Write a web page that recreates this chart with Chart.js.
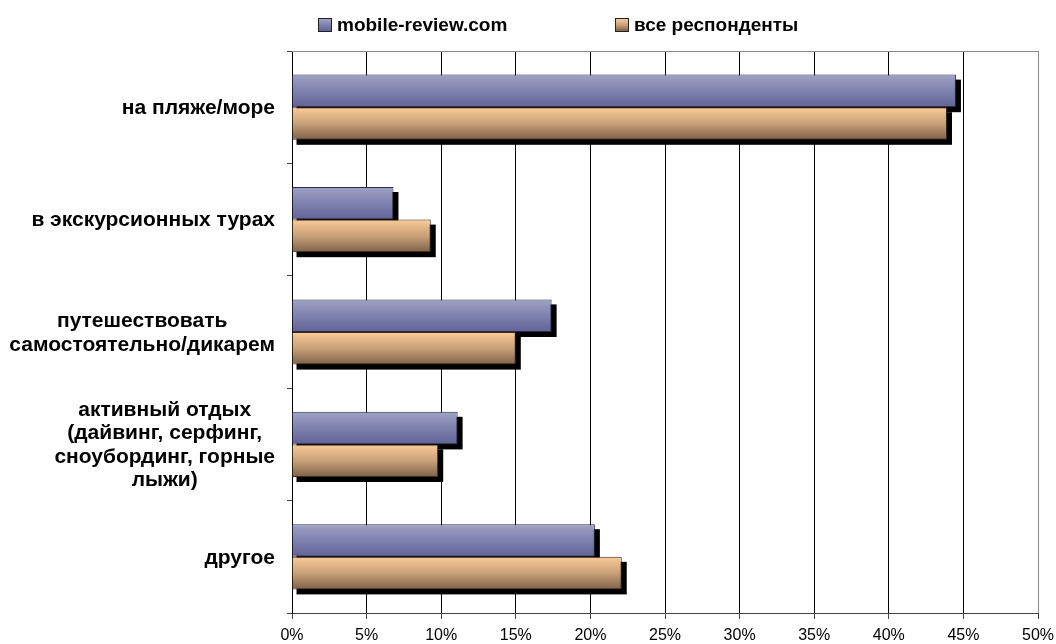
<!DOCTYPE html>
<html>
<head>
<meta charset="utf-8">
<script src="https://cdn.jsdelivr.net/npm/chart.js@4/dist/chart.umd.min.js"></script>
<style>
  html, body { margin: 0; padding: 0; background: #fff; }
  #wrap { position: relative; width: 1056px; height: 644px; }
  #legend { position: absolute; top: 14px; left: 0; width: 1056px; height: 22px;
            font: bold 19px "Liberation Sans", Arial, sans-serif; color: #000; }
  .item { position: absolute; top: 0; display: flex; align-items: center; height: 22px; white-space: nowrap; }
  .box { width: 12px; height: 12px; border: 1px solid #222; margin-right: 5px; }
</style>
</head>
<body>
<div id="wrap">
  <canvas id="c" width="1056" height="644"></canvas>
  <div id="legend"></div>
</div>
<script>
// ---- data ----
const categories = [
  'на пляже/море',
  'в экскурсионных турах',
  ['путешествовать', 'самостоятельно/дикарем'],
  ['активный отдых', '(дайвинг, серфинг,', 'сноубординг, горные', 'лыжи)'],
  'другое'
];
const seriesNames = ['mobile-review.com', 'все респонденты'];
const mobileReview = [44.5, 6.8, 17.4, 11.1, 20.3];
const allRespondents = [43.9, 9.3, 15.0, 9.8, 22.1];
const xTickStep = 5;
const xMin = 0;
const xMax = 50;

// ---- style ----
const FONT = '"Liberation Sans", Arial, sans-serif';
const CAT_PCT = 0.58;
const gradStops = [
  ['#a0a1c6', '#7f81ae', '#616398'],
  ['#fbcc9a', '#c9a078', '#7f624a']
];

function barGradient(c) {
  const chart = c.chart;
  const stops = gradStops[c.datasetIndex];
  const y = chart.scales && chart.scales.y;
  if (!y || c.type !== 'data') return stops[1];
  const center = y.getPixelForValue(c.dataIndex);
  const band = Math.abs(y.getPixelForValue(1) - y.getPixelForValue(0)) * CAT_PCT / 2;
  if (!isFinite(center) || !isFinite(band) || band <= 0) return stops[1];
  const top = c.datasetIndex === 0 ? center - band : center;
  const g = chart.ctx.createLinearGradient(0, top, 0, top + band);
  g.addColorStop(0, stops[0]);
  g.addColorStop(0.5, stops[1]);
  g.addColorStop(1, stops[2]);
  return g;
}

const shadowPlugin = {
  id: 'barShadow',
  beforeDatasetsDraw(chart) {
    const ctx = chart.ctx;
    ctx.save();
    ctx.fillStyle = '#000';
    chart.getSortedVisibleDatasetMetas().forEach(meta => {
      meta.data.forEach(el => {
        const p = el.getProps(['x', 'y', 'base', 'height'], true);
        ctx.fillRect(p.base + 4, p.y - p.height / 2 + 5, p.x - p.base + 1, p.height);
      });
    });
    ctx.restore();
  }
};

const framePlugin = {
  id: 'frame',
  beforeDatasetsDraw(chart) {
    const a = chart.chartArea, ctx = chart.ctx;
    ctx.save();
    ctx.strokeStyle = '#8a8a8a';
    ctx.lineWidth = 1;
    ctx.beginPath();
    ctx.moveTo(a.left, Math.round(a.top) + 0.5);
    ctx.lineTo(a.right, Math.round(a.top) + 0.5);
    ctx.stroke();
    ctx.restore();
  }
};

const yLabelPlugin = {
  id: 'yLabels',
  afterDraw(chart) {
    const ctx = chart.ctx, y = chart.scales.y;
    const LINE_H = 23.5, GAP = 17;
    ctx.save();
    ctx.font = 'bold 21px ' + FONT;
    ctx.fillStyle = '#000';
    ctx.textAlign = 'center';
    ctx.textBaseline = 'middle';
    chart.data.labels.forEach((lab, i) => {
      const lines = Array.isArray(lab) ? lab : [lab];
      const w = Math.max(...lines.map(l => ctx.measureText(l).width));
      const cx = y.right - GAP - w / 2;
      const cy = y.getPixelForValue(i);
      lines.forEach((l, k) => ctx.fillText(l, cx, cy + (k - (lines.length - 1) / 2) * LINE_H + 1));
    });
    ctx.restore();
  }
};

const chart = new Chart(document.getElementById('c'), {
  type: 'bar',
  data: {
    labels: categories,
    datasets: [
      { label: seriesNames[0], data: mobileReview, backgroundColor: barGradient,
        borderColor: '#2a2a3a', borderWidth: 1, barPercentage: 1, categoryPercentage: CAT_PCT },
      { label: seriesNames[1], data: allRespondents, backgroundColor: barGradient,
        borderColor: '#3a2a1a', borderWidth: 1, barPercentage: 1, categoryPercentage: CAT_PCT }
    ]
  },
  options: {
    indexAxis: 'y',
    responsive: false,
    animation: false,
    devicePixelRatio: 1,
    layout: { padding: { top: 51, right: 18, left: 0, bottom: 0 } },
    plugins: { legend: { display: false }, tooltip: { enabled: false } },
    scales: {
      x: {
        min: xMin, max: xMax,
        ticks: { stepSize: xTickStep, color: '#000', font: { family: FONT, size: 16 }, padding: 7,
                 callback: v => v + '%', maxRotation: 0 },
        grid: { color: (c) => (c.tick && c.tick.value === xMax) ? '#8a8a8a' : '#000', lineWidth: 1,
                tickLength: 6, tickColor: '#444' },
        border: { color: '#444', width: 1 },
        afterFit(s) { s.height = 31; s.paddingRight = 0; s.paddingLeft = 0; }
      },
      y: {
        ticks: { display: false },
        grid: { offset: true, drawOnChartArea: false, drawTicks: true, tickLength: 5, color: '#444' },
        border: { color: '#000', width: 1 },
        afterFit(s) { s.width = 292; s.paddingTop = 0; s.paddingBottom = 0; }
      }
    }
  },
  plugins: [shadowPlugin, framePlugin, yLabelPlugin]
});

// HTML legend built from the chart's datasets
const legendEl = document.getElementById('legend');
const legendX = [318, 615];
chart.data.datasets.forEach((ds, i) => {
  const item = document.createElement('div');
  item.className = 'item';
  item.style.left = legendX[i] + 'px';
  const box = document.createElement('span');
  box.className = 'box';
  box.style.background = 'linear-gradient(' + gradStops[i].join(',') + ')';
  const txt = document.createElement('span');
  txt.textContent = ds.label;
  item.appendChild(box);
  item.appendChild(txt);
  legendEl.appendChild(item);
});
</script>
</body>
</html>
